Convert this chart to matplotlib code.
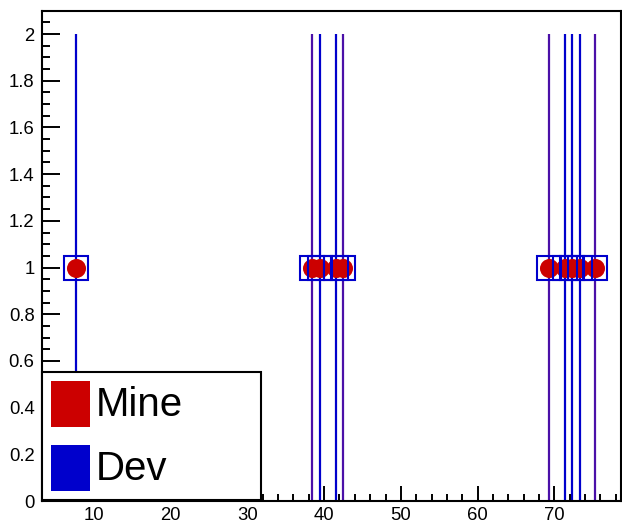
import matplotlib
matplotlib.use("Agg")
import matplotlib.pyplot as plt
from matplotlib.patches import Rectangle
from matplotlib.ticker import MultipleLocator, FuncFormatter

# Data
x_points = [7.6, 38.46, 39.47, 41.51, 42.46, 69.36, 71.37, 72.36, 73.36, 75.36]
mine_y = [1, 1, 1, 1, 1, 1, 1, 1, 1, 1]
dev_y = [1, 1, 1, 1, 1, 1, 1, 1, 1, 1]
dev_yerr = [1, 1, 1, 1, 1, 1, 1, 1, 1, 1]
line_colors = ["#0000cc", "#4a10a8", "#0000cc", "#0000cc", "#4a10a8",
               "#4a10a8", "#0000cc", "#0000cc", "#0000cc", "#4a10a8"]
legend_labels = ["Mine", "Dev"]

plt.rcParams['font.family'] = ['Liberation Sans', 'DejaVu Sans']

fig = plt.figure(figsize=(6.22, 5.25), dpi=100)
ax = fig.add_axes([41.5 / 622, 1 - 501 / 525, (621 - 41.5) / 622, (501 - 10.7) / 525])

# Error bars (vertical lines)
for xi, yi, ei, c in zip(x_points, dev_y, dev_yerr, line_colors):
    ax.vlines(xi, yi - ei, yi + ei, colors=c, linewidth=1.6, zorder=1)

# Mine markers
ax.plot(x_points, mine_y, linestyle="none", marker="o", markersize=13.7,
        markerfacecolor="#cc0000", markeredgecolor="#cc0000", markeredgewidth=0, zorder=2)
# Dev markers (open squares)
ax.plot(x_points, dev_y, linestyle="none", marker="s", markersize=16.6,
        markerfacecolor="none", markeredgecolor="#0000cc", markeredgewidth=1.5, zorder=3)

ax.set_xlim(3.15, 78.7)
ax.set_ylim(0, 2.1)

ax.xaxis.set_major_locator(MultipleLocator(10))
ax.xaxis.set_minor_locator(MultipleLocator(2))
ax.yaxis.set_major_locator(MultipleLocator(0.2))
ax.yaxis.set_minor_locator(MultipleLocator(0.05))
ax.yaxis.set_major_formatter(FuncFormatter(lambda v, p: "%g" % round(v, 2)))
ax.xaxis.set_major_formatter(FuncFormatter(lambda v, p: "%g" % v))

ax.tick_params(axis="both", which="both", direction="in", width=1.4,
               top=False, right=False, labelsize=13.3, colors="black")
ax.tick_params(axis="y", which="major", length=12.7, pad=5)
ax.tick_params(axis="y", which="minor", length=5.8)
ax.tick_params(axis="x", which="major", length=10.8, pad=4)
ax.tick_params(axis="x", which="minor", length=5.0)

for s in ax.spines.values():
    s.set_linewidth(1.5)

# Legend (drawn manually, ROOT style)
W, H = 622, 525
def fx(px):
    return px / W
def fy(py):
    return 1 - py / H

fig.add_artist(Rectangle((fx(41.7), fy(500)), fx(260.7) - fx(41.7), fy(371.7) - fy(500),
                         transform=fig.transFigure, facecolor="white", edgecolor="black",
                         linewidth=1.5, zorder=10))
colors_leg = ["#cc0000", "#0000cc"]
tops = [381, 445]
for lab, col, t in zip(legend_labels, colors_leg, tops):
    fig.add_artist(Rectangle((fx(50.7), fy(t + 45.7)), fx(90) - fx(50.7), fy(t) - fy(t + 45.7),
                             transform=fig.transFigure, facecolor=col, edgecolor="none",
                             zorder=11))
    fig.text(fx(96), fy(t + 23.5), lab, fontsize=29, ha="left", va="center",
             zorder=12, color="black")

fig.savefig("out.png", dpi=100)
